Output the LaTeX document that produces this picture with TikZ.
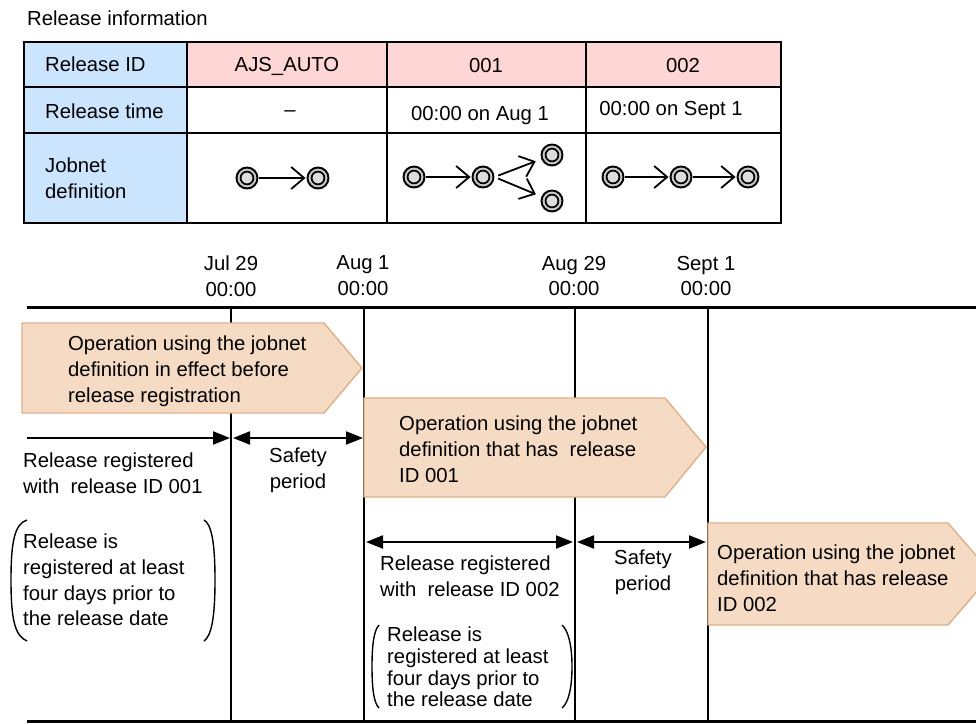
\documentclass[tikz,border=0pt]{standalone}
\usepackage{fontspec}
\setmainfont{Liberation Sans}
\usetikzlibrary{arrows.meta}

\definecolor{idblue}{HTML}{CCE5FF}
\definecolor{idpink}{HTML}{FFD6D6}
\definecolor{opfill}{HTML}{F5DBC4}
\definecolor{opline}{HTML}{DDB08A}
\definecolor{ringgray}{HTML}{C8C8C8}
\definecolor{coregray}{HTML}{DCDCDC}

\tikzset{
  txt/.style={font=\fontsize{20.3}{25.8}\selectfont, inner sep=0pt, align=left},
  txtc/.style={txt, align=center},
  line/.style={font=\fontsize{20.3}{25.8}\selectfont, inner sep=0pt, anchor=base},
  tight/.style={font=\fontsize{20.3}{21.8}\selectfont},
  cell/.style={line width=1.6pt},
  opbox/.style={fill=opfill, draw=opline, line width=1.4pt, line join=miter},
  tline/.style={line width=3pt},
  vline/.style={line width=1.4pt},
  spanboth/.style={line width=2pt, {Triangle[length=17pt,width=13pt]}-{Triangle[length=17pt,width=13pt]}},
  spanright/.style={line width=2pt, -{Triangle[length=17pt,width=13pt]}},
  paren/.style={line width=1.4pt},
  jobicon/.style={circle, draw, line width=1.9pt, fill=ringgray, minimum size=21pt, inner sep=0pt,
    path picture={\draw[line width=1.7pt, fill=coregray] (path picture bounding box.center) circle[radius=6.4pt];}},
  iconarrow/.style={line width=1.8pt, -{Straight Barb[length=13pt,width=22pt]}, shorten >=1pt, shorten <=1pt},
}

\begin{document}
\begin{tikzpicture}[x=1pt, y=-1pt]
    \useasboundingbox (0,0) rectangle (976,724);

    % Release information table
    \node[line, anchor=base west] (relinfo) at (27,25) {Release information};
    \fill[idblue] (24,42) rectangle (187,223);
    \fill[idpink] (187,42) rectangle (781,87);
    \draw[cell] (24,42) rectangle (781,223);
    \draw[cell] (24,87) -- (781,87);
    \draw[cell] (24,133) -- (781,133);
    \foreach \cx in {187,387,586}
        \draw[cell] (\cx,42) -- (\cx,223);

    \node[line, anchor=base west] (hid) at (45,71) {Release ID};
    \node[line, anchor=base west] (htime) at (45,118) {Release time};
    \node[txt, anchor=west] (hdef) at (45,178) {Jobnet\\definition};

    \node[line] (idauto) at (287,71) {AJS\_AUTO};
    \node[line] (idone) at (486,72) {001};
    \node[line] (idtwo) at (683,72) {002};

    \node[line] (tauto) at (290,116) {–};
    \node[line] (tone) at (480,120) {00:00 on Aug 1};
    \node[line] (ttwo) at (671,115) {00:00 on Sept 1};

    % Jobnet definitions
    \node[jobicon] (a1) at (247,178) {};
    \node[jobicon] (a2) at (318,178) {};
    \draw[iconarrow] (a1) -- (a2);

    \node[jobicon] (b1) at (414,177) {};
    \node[jobicon] (b2) at (483,177) {};
    \node[jobicon] (b3) at (552,155) {};
    \node[jobicon] (b4) at (552,201) {};
    \draw[iconarrow] (b1) -- (b2);
    \draw[iconarrow, shorten <=4pt, shorten >=6pt] (b2.east) -- (b3);
    \draw[iconarrow, shorten <=4pt, shorten >=6pt] (b2.east) -- (b4);

    \node[jobicon] (c1) at (613,177) {};
    \node[jobicon] (c2) at (681,177) {};
    \node[jobicon] (c3) at (748,177) {};
    \draw[iconarrow] (c1) -- (c2);
    \draw[iconarrow] (c2) -- (c3);

    % Dates
    \node[txtc] (djul) at (231,276) {Jul 29\\00:00};
    \node[txtc] (daug) at (363,276) {Aug 1\\00:00};
    \node[txtc] (daugb) at (574,276) {Aug 29\\00:00};
    \node[txtc] (dsep) at (706,276) {Sept 1\\00:00};

    % Time axis
    \coordinate (tstart) at (27,307);
    \coordinate (tend) at (976,307);
    \coordinate (jul) at (231,307);
    \coordinate (aug) at (364,307);
    \coordinate (augb) at (575,307);
    \coordinate (sep) at (708,307);
    \coordinate (bot) at (27,721);
    \foreach \d in {jul,aug,augb,sep}
        \draw[vline] (\d) -- (\d |- bot);
    \draw[tline] (tstart) -- (tend);
    \draw[tline] (bot) -- (bot -| tend);

    % Operation periods
    \draw[opbox] (22,323) -- (324,323) -- (362,368) -- (324,413) -- (22,413) -- cycle;
    \node[txt, anchor=west] (opauto) at (68,371) {Operation using the jobnet\\definition in effect before\\release registration};

    \draw[opbox] (364,398) -- (665,398) -- (706,447) -- (665,497) -- (364,497) -- cycle;
    \node[txt, anchor=west] (opone) at (399,449) {Operation using the jobnet\\definition that has\ \ release\\ID 001};

    \draw[opbox] (708,523) -- (948,523) -- (992,574) -- (948,625) -- (708,625) -- cycle;
    \node[txt, anchor=west] (optwo) at (717,578) {Operation using the jobnet\\definition that has release\\ID 002};

    % Registration for 001
    \coordinate (regone) at (27,438);
    \draw[spanright, shorten >=1pt] (regone) -- (jul |- regone);
    \draw[spanboth, shorten <=2pt, shorten >=1pt] (jul |- regone) -- (aug |- regone);
    \node[txt, anchor=west] (lregone) at (23,473) {Release registered\\with\ \ release ID 001};
    \node[txtc] (lsafeone) at (298,470) {Safety\\period};

    \draw[paren] (27,520) .. controls (15,524) and (11,540) .. (11,580) .. controls (11,620) and (15,636) .. (27,641);
    \draw[paren] (204,520) .. controls (211,524) and (215,540) .. (215,580) .. controls (215,620) and (211,636) .. (204,641);
    \node[txt, anchor=west] (noteone) at (23,580) {Release is\\registered at least\\four days prior to\\the release date};

    % Registration for 002
    \coordinate (regtwo) at (364,542);
    \draw[spanboth, shorten <=2pt, shorten >=2pt] (regtwo) -- (augb |- regtwo);
    \draw[spanboth, shorten <=2pt, shorten >=2pt] (augb |- regtwo) -- (sep |- regtwo);
    \node[txt, anchor=west] (lregtwo) at (380,576) {Release registered\\with\ \ release ID 002};
    \node[txtc] (lsafetwo) at (643,572) {Safety\\period};

    \draw[paren] (379,625) .. controls (374,630) and (372,645) .. (372,666) .. controls (372,690) and (374,703) .. (379,708);
    \draw[paren] (562,625) .. controls (568,630) and (572,645) .. (572,666) .. controls (572,690) and (568,703) .. (562,708);
    \node[txt, tight, anchor=west] (notetwo) at (387,667) {Release is\\registered at least\\four days prior to\\the release date};

\end{tikzpicture}
\end{document}
